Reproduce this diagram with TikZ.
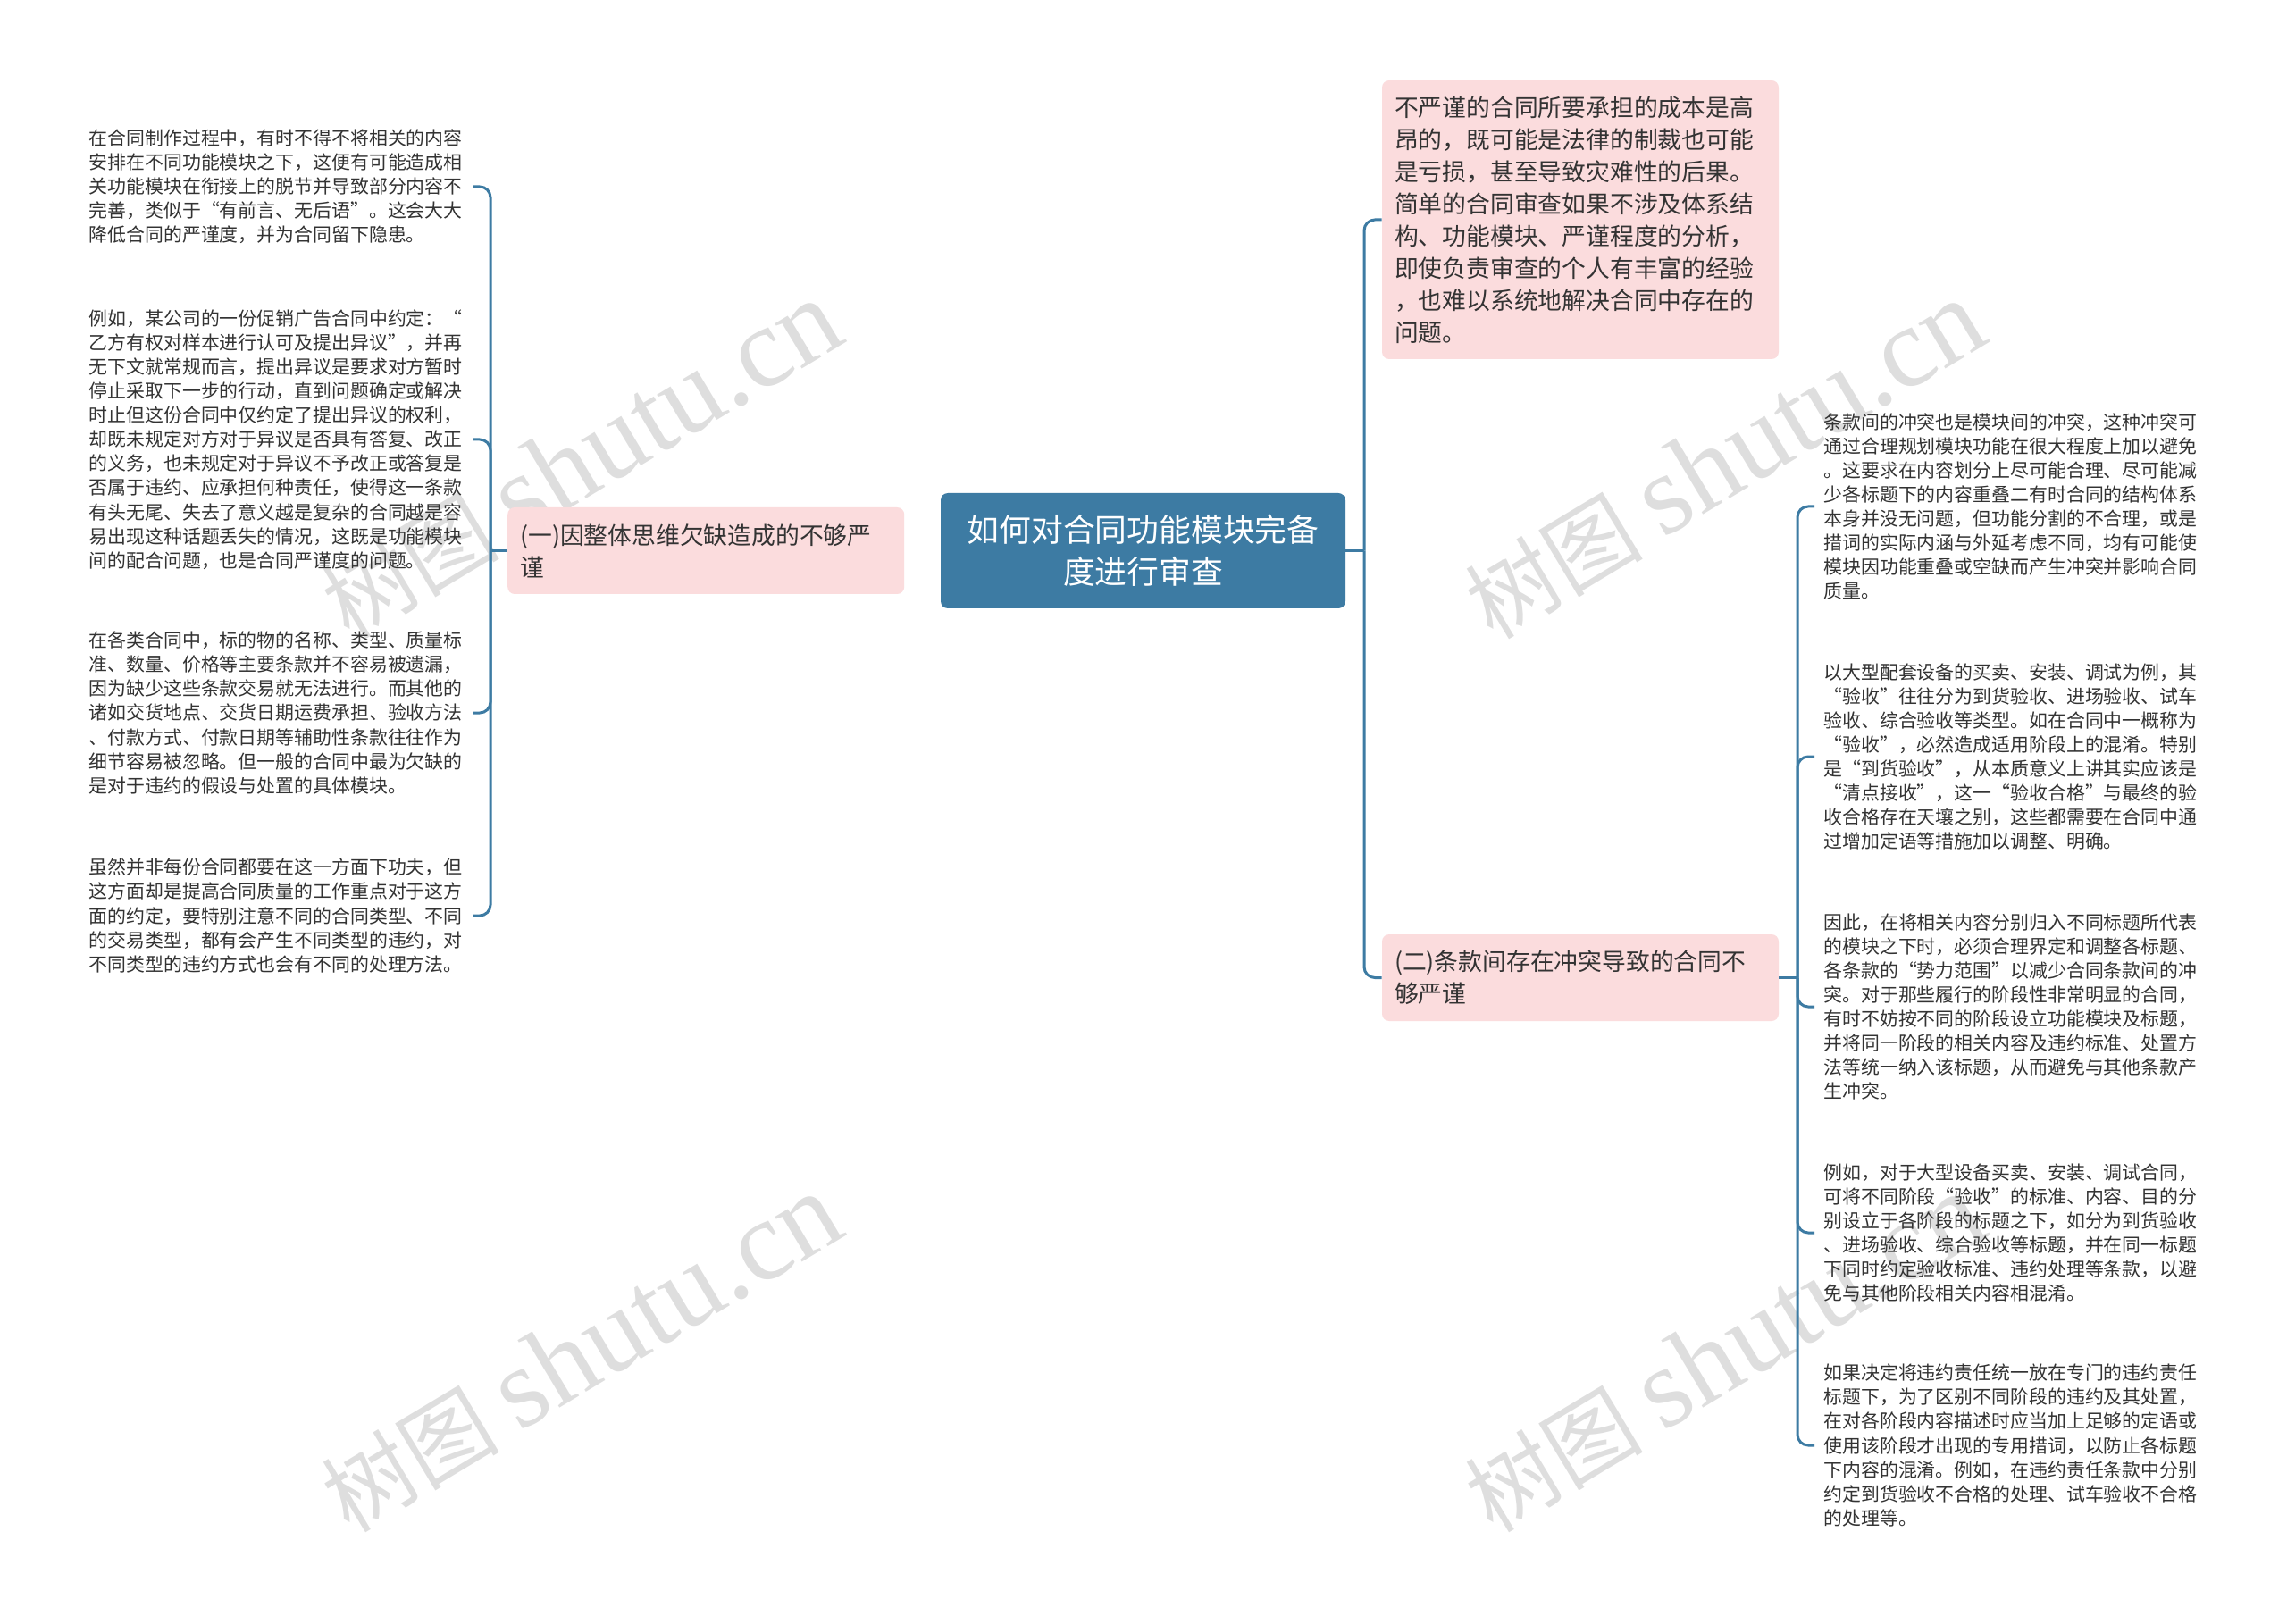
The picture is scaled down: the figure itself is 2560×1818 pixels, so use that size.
\documentclass[tikz,border=0pt]{standalone}
\usepackage{fontspec}
\setmainfont{Noto Sans CJK SC}
\newfontfamily\wmlatin{Liberation Serif}
\usepackage{xcolor}
\usetikzlibrary{positioning}
\definecolor{mapblue}{RGB}{61,123,163}
\definecolor{mappink}{RGB}{251,220,221}
\definecolor{maptext}{RGB}{51,51,51}
\tikzset{
	rootbox/.style={fill=mapblue, rounded corners=4pt, text=white, align=center,
		minimum width=226.5pt, minimum height=64.5pt, inner sep=0pt,
		font=\fontsize{17.9}{23.7}\selectfont},
	subbox/.style={fill=mappink, rounded corners=4pt, text=maptext, align=left,
		text width=208pt, inner xsep=7pt, inner ysep=0pt,
		font=\fontsize{13.4}{18}\selectfont},
	leaf/.style={text=maptext, align=left, text width=210pt, inner xsep=5pt, inner ysep=0pt,
		font=\fontsize{10.45}{13.55}\selectfont},
	link/.style={draw=mapblue, line width=1.5pt, rounded corners=6pt},
	wmark/.style={text=black, opacity=0.13, rotate=31, inner sep=0pt}
}

\begin{document}
\begin{tikzpicture}[x=0.5pt, y=-0.5pt]
		\fill[white] (0,0) rectangle (2560,1818);
		\useasboundingbox (0,0) rectangle (2560,1818);

		\node[wmark] (wma) at (650,515) {\fontsize{50}{50}\selectfont 树图 \wmlatin\fontsize{64}{64}\selectfont shutu.cn};
		\node[wmark] (wmb) at (650,1515) {\fontsize{50}{50}\selectfont 树图 \wmlatin\fontsize{64}{64}\selectfont shutu.cn};
		\node[wmark] (wmc) at (1930,515) {\fontsize{50}{50}\selectfont 树图 \wmlatin\fontsize{64}{64}\selectfont shutu.cn};
		\node[wmark] (wmd) at (1930,1515) {\fontsize{50}{50}\selectfont 树图 \wmlatin\fontsize{64}{64}\selectfont shutu.cn};

		\node[rootbox] (root) at (1279.5,616.5) {如何对合同功能模块完备\\度进行审查};
		\node[subbox, minimum height=48.5pt, left=20pt of root] (partone) {(一)因整体思维欠缺造成的不够严\\谨};
		\node[subbox, minimum height=156pt] (cost) at (1769,246) {不严谨的合同所要承担的成本是高\\昂的，既可能是法律的制裁也可能\\是亏损，甚至导致灾难性的后果。\\简单的合同审查如果不涉及体系结\\构、功能模块、严谨程度的分析，\\即使负责审查的个人有丰富的经验\\，也难以系统地解决合同中存在的\\问题。};
		\node[subbox, minimum height=48.5pt] (parttwo) at (1769,1094.5) {(二)条款间存在冲突导致的合同不\\够严谨};

		\coordinate (jl) at (549,616.5);
		\coordinate (jr) at (1527,616.5);
		\coordinate (jrr) at (2012,1094.5);

		\node[leaf, anchor=east] (gap) at (530,209) {在合同制作过程中，有时不得不将相关的内容\\安排在不同功能模块之下，这便有可能造成相\\关功能模块在衔接上的脱节并导致部分内容不\\完善，类似于“有前言、无后语”。这会大大\\降低合同的严谨度，并为合同留下隐患。};
		\node[leaf, anchor=east] (objection) at (530,492) {例如，某公司的一份促销广告合同中约定：“\\乙方有权对样本进行认可及提出异议”，并再\\无下文就常规而言，提出异议是要求对方暂时\\停止采取下一步的行动，直到问题确定或解决\\时止但这份合同中仅约定了提出异议的权利，\\却既未规定对方对于异议是否具有答复、改正\\的义务，也未规定对于异议不予改正或答复是\\否属于违约、应承担何种责任，使得这一条款\\有头无尾、失去了意义越是复杂的合同越是容\\易出现这种话题丢失的情况，这既是功能模块\\间的配合问题，也是合同严谨度的问题。};
		\node[leaf, anchor=east] (breach) at (530,798) {在各类合同中，标的物的名称、类型、质量标\\准、数量、价格等主要条款并不容易被遗漏，\\因为缺少这些条款交易就无法进行。而其他的\\诸如交货地点、交货日期运费承担、验收方法\\、付款方式、付款日期等辅助性条款往往作为\\细节容易被忽略。但一般的合同中最为欠缺的\\是对于违约的假设与处置的具体模块。};
		\node[leaf, anchor=east] (effort) at (530,1025) {虽然并非每份合同都要在这一方面下功夫，但\\这方面却是提高合同质量的工作重点对于这方\\面的约定，要特别注意不同的合同类型、不同\\的交易类型，都有会产生不同类型的违约，对\\不同类型的违约方式也会有不同的处理方法。};

		\node[leaf, anchor=west] (clash) at (2031,567) {条款间的冲突也是模块间的冲突，这种冲突可\\通过合理规划模块功能在很大程度上加以避免\\。这要求在内容划分上尽可能合理、尽可能减\\少各标题下的内容重叠二有时合同的结构体系\\本身并没无问题，但功能分割的不合理，或是\\措词的实际内涵与外延考虑不同，均有可能使\\模块因功能重叠或空缺而产生冲突并影响合同\\质量。};
		\node[leaf, anchor=west] (accept) at (2031,847) {以大型配套设备的买卖、安装、调试为例，其\\“验收”往往分为到货验收、进场验收、试车\\验收、综合验收等类型。如在合同中一概称为\\“验收”，必然造成适用阶段上的混淆。特别\\是“到货验收”，从本质意义上讲其实应该是\\“清点接收”，这一“验收合格”与最终的验\\收合格存在天壤之别，这些都需要在合同中通\\过增加定语等措施加以调整、明确。};
		\node[leaf, anchor=west] (divide) at (2031,1127) {因此，在将相关内容分别归入不同标题所代表\\的模块之下时，必须合理界定和调整各标题、\\各条款的“势力范围”以减少合同条款间的冲\\突。对于那些履行的阶段性非常明显的合同，\\有时不妨按不同的阶段设立功能模块及标题，\\并将同一阶段的相关内容及违约标准、处置方\\法等统一纳入该标题，从而避免与其他条款产\\生冲突。};
		\node[leaf, anchor=west] (stages) at (2031,1380) {例如，对于大型设备买卖、安装、调试合同，\\可将不同阶段“验收”的标准、内容、目的分\\别设立于各阶段的标题之下，如分为到货验收\\、进场验收、综合验收等标题，并在同一标题\\下同时约定验收标准、违约处理等条款，以避\\免与其他阶段相关内容相混淆。};
		\node[leaf, anchor=west] (liability) at (2031,1618) {如果决定将违约责任统一放在专门的违约责任\\标题下，为了区别不同阶段的违约及其处置，\\在对各阶段内容描述时应当加上足够的定语或\\使用该阶段才出现的专用措词，以防止各标题\\下内容的混淆。例如，在违约责任条款中分别\\约定到货验收不合格的处理、试车验收不合格\\的处理等。};

		\draw[link] (partone.west) -- (jl);
		\foreach \n in {gap,objection,breach,effort}
			\draw[link] (jl) |- (\n.east);
		\draw[link] (root.east) -- (jr);
		\draw[link] (jr) |- (cost.west);
		\draw[link] (jr) |- (parttwo.west);
		\draw[link] (parttwo.east) -- (jrr);
		\foreach \n in {clash,accept,divide,stages,liability}
			\draw[link] (jrr) |- (\n.west);
	\end{tikzpicture}
\end{document}
